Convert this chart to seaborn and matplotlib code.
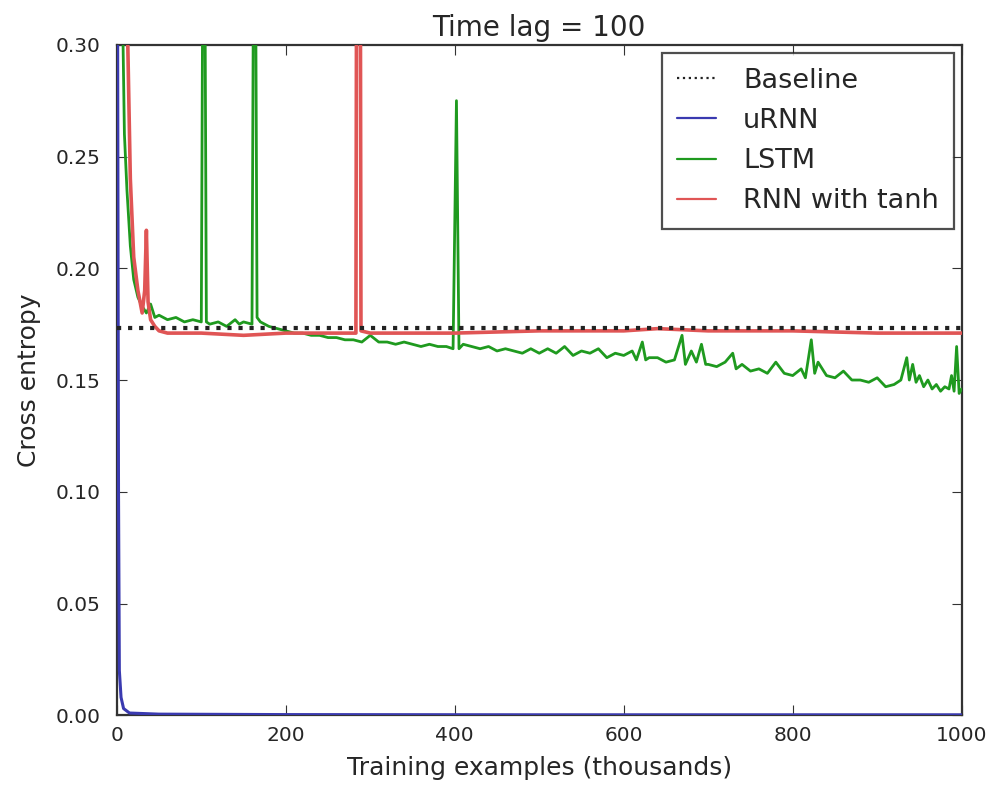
import numpy as np
import pandas as pd
import matplotlib
matplotlib.use("Agg")
import matplotlib.pyplot as plt
import seaborn as sns

# ---- data ----
baseline_x = [0, 1000]
baseline_y = [0.1735, 0.1735]

urnn_x = [0, 1, 2, 3, 5, 8, 15, 50, 200, 500, 1000]
urnn_y = [0.60, 0.30, 0.10, 0.02, 0.008, 0.003, 0.001, 0.0005, 0.0003, 0.0002, 0.0002]

lstm_x = [0, 4, 7, 9, 12, 16, 20, 25, 30, 35, 40, 45, 50, 60, 70, 80, 90, 100,
          103, 106, 110, 120, 130, 140, 145, 150, 160, 163, 166, 170, 180, 190,
          200, 210, 220, 230, 240, 250, 260, 270, 280, 290, 300, 310, 320, 330,
          340, 350, 360, 370, 380, 390, 398, 402, 405, 410, 420, 430, 440, 450,
          460, 470, 480, 490, 500, 510, 520, 530, 540, 550, 560, 570, 580, 590,
          600, 610, 615, 622, 626, 630, 640, 650, 660, 669, 673, 680, 686, 692,
          697, 700, 710, 720, 729, 733, 740, 750, 760, 770, 780, 790, 800, 810,
          815, 822, 826, 830, 840, 850, 860, 870, 880, 890, 900, 910, 920, 928,
          935, 938, 942, 946, 950, 955, 960, 965, 970, 975, 980, 985, 988, 991,
          994, 997, 1000]
lstm_y = [0.45, 0.40, 0.31, 0.26, 0.235, 0.21, 0.195, 0.187, 0.183, 0.180, 0.184,
          0.178, 0.179, 0.177, 0.178, 0.176, 0.177, 0.176,
          0.45, 0.176, 0.175, 0.176, 0.174, 0.177, 0.175, 0.176, 0.175, 0.45,
          0.178, 0.176, 0.174, 0.173,
          0.172, 0.171, 0.171, 0.170, 0.170, 0.169, 0.169, 0.168, 0.168, 0.167,
          0.170, 0.167, 0.167, 0.166,
          0.167, 0.166, 0.165, 0.166, 0.165, 0.165, 0.164, 0.275, 0.164, 0.166,
          0.165, 0.164, 0.165, 0.163,
          0.164, 0.163, 0.162, 0.164, 0.162, 0.164, 0.162, 0.165, 0.161, 0.163,
          0.162, 0.164, 0.160, 0.162,
          0.161, 0.163, 0.159, 0.167, 0.159, 0.160, 0.160, 0.158, 0.159, 0.170,
          0.157, 0.163, 0.158, 0.166,
          0.157, 0.157, 0.156, 0.158, 0.162, 0.155, 0.157, 0.154, 0.155, 0.153,
          0.158, 0.153, 0.152, 0.155,
          0.151, 0.168, 0.153, 0.158, 0.152, 0.151, 0.154, 0.150, 0.150, 0.149,
          0.151, 0.147, 0.148, 0.150,
          0.160, 0.150, 0.157, 0.149, 0.152, 0.147, 0.150, 0.146, 0.148, 0.145,
          0.147, 0.146, 0.152, 0.145,
          0.165, 0.144, 0.146]

rnn_x = [0, 10, 13, 16, 20, 25, 30, 33, 35, 37, 40, 45, 50, 60, 100, 150, 200,
         250, 283, 285, 287, 289, 300, 400, 500, 600, 640, 700, 800, 900, 1000]
rnn_y = [0.60, 0.40, 0.30, 0.24, 0.205, 0.19, 0.18, 0.19, 0.217, 0.185, 0.177,
         0.174, 0.172, 0.171, 0.171, 0.170, 0.171,
         0.171, 0.171, 0.60, 0.60, 0.172, 0.171, 0.171, 0.172, 0.172, 0.173,
         0.172, 0.172, 0.171, 0.171]

# ---- style ----
sns.set_style("ticks", {"xtick.direction": "in", "ytick.direction": "in",
                        "axes.edgecolor": "#333333"})
plt.rcParams["font.family"] = ["DejaVu Sans"]

fig = plt.figure(figsize=(10.07, 7.86), dpi=100)
ax = fig.add_axes([0.116, 0.090, 0.839, 0.853])

sns.lineplot(x=baseline_x, y=baseline_y, ax=ax, color="#222222", linestyle=":",
             linewidth=3, label="Baseline", zorder=5)
sns.lineplot(x=urnn_x, y=urnn_y, ax=ax, color="#3a3ab0", linewidth=2.2,
             label="uRNN", zorder=3)
sns.lineplot(x=lstm_x, y=lstm_y, ax=ax, color="#1f9a1f", linewidth=2.0,
             label="LSTM", zorder=3)
sns.lineplot(x=rnn_x, y=rnn_y, ax=ax, color="#e05555", linewidth=2.6,
             label="RNN with tanh", zorder=4)

ax.set_xlim(0, 1000)
ax.set_ylim(0.0, 0.30)
ax.set_xticks([0, 200, 400, 600, 800, 1000])
ax.set_yticks([0.00, 0.05, 0.10, 0.15, 0.20, 0.25, 0.30])
ax.yaxis.set_major_formatter(matplotlib.ticker.FormatStrFormatter("%.2f"))
ax.tick_params(top=True, right=True, labelsize=14.5, length=7, color="#333333")
ax.tick_params(axis="x", pad=8)
ax.tick_params(axis="y", pad=12)
for s in ax.spines.values():
    s.set_linewidth(1.6)

ax.set_xlabel("Training examples (thousands)", fontsize=18, labelpad=8)
ax.set_ylabel("Cross entropy", fontsize=18, labelpad=10)
ax.set_title("Time lag = 100", fontsize=20)

leg = ax.legend(loc="upper right", fontsize=19.5, frameon=True, fancybox=False,
                handlelength=1.45, handletextpad=1.0, borderpad=0.55,
                labelspacing=0.52, borderaxespad=0.3)
leg.get_frame().set_edgecolor("#222222")
leg.get_frame().set_linewidth(1.6)
for line in leg.get_lines():
    line.set_linewidth(1.6)

fig.savefig("out.png", dpi=100, facecolor="white")
